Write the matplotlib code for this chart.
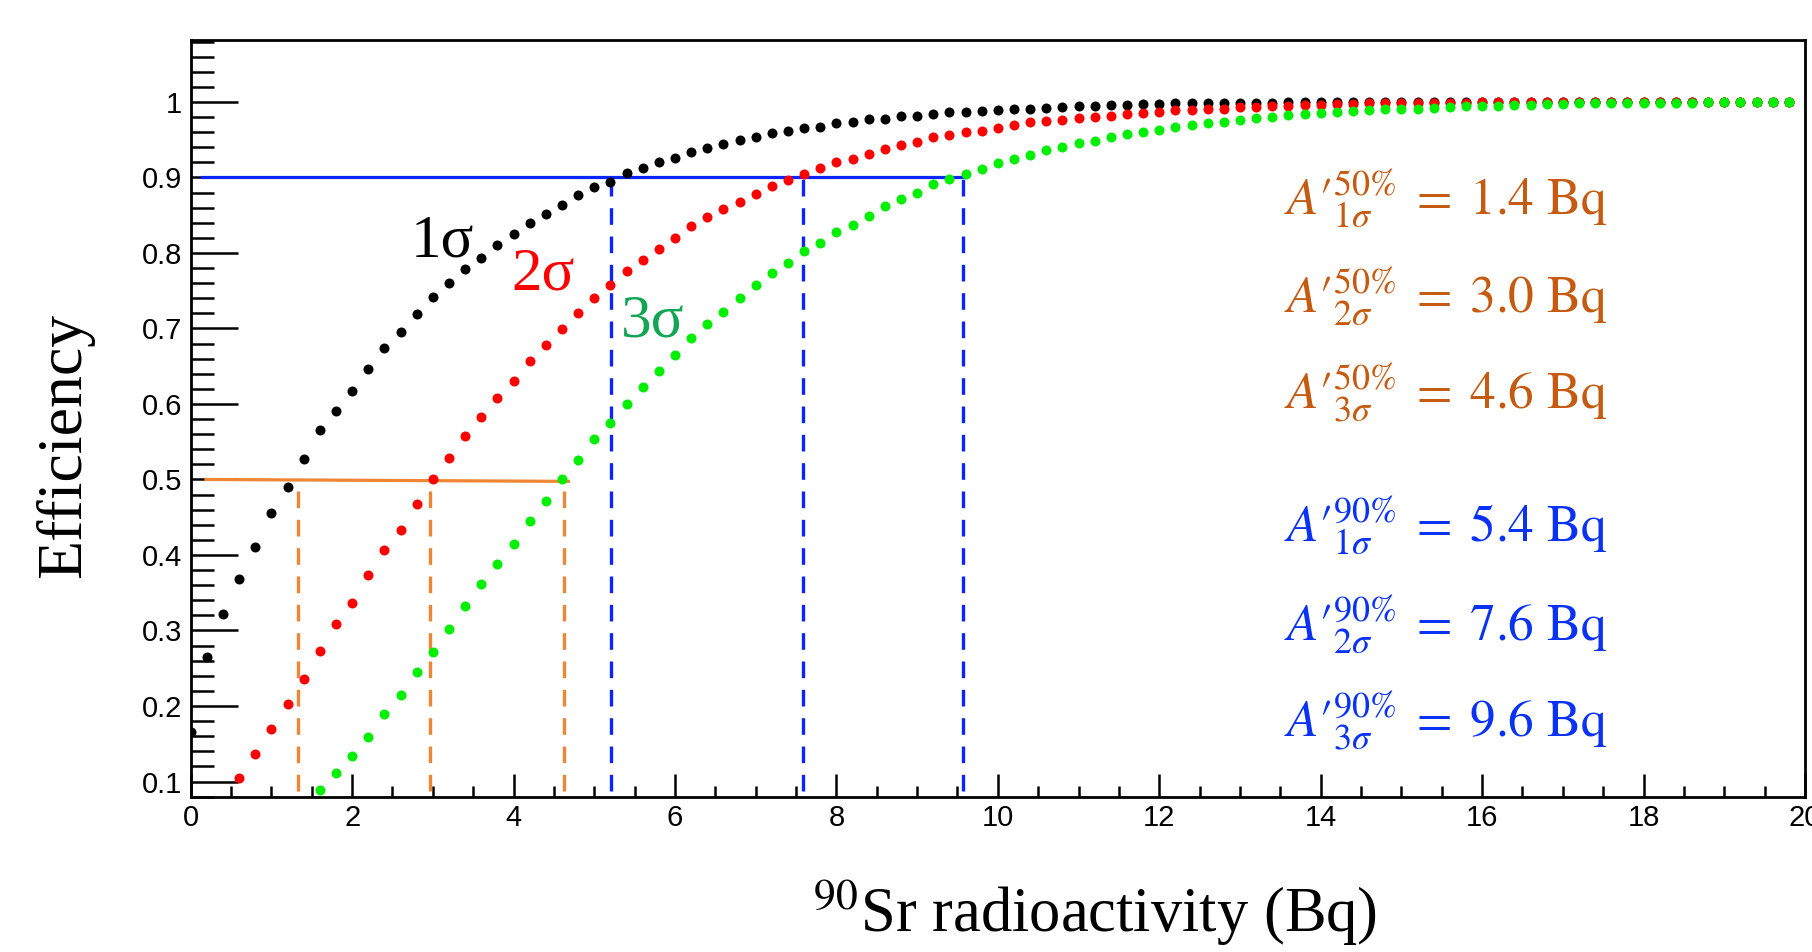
import numpy as np
import matplotlib
matplotlib.use("Agg")
import matplotlib.pyplot as plt
from matplotlib.ticker import MultipleLocator, FixedLocator

plt.rcParams['mathtext.fontset'] = 'stix'

# ---------------- data ----------------
x = np.round(np.arange(0, 20, 0.2), 1)

eff_1sigma = [0.166, 0.265, 0.322, 0.368, 0.411, 0.456, 0.490, 0.527, 0.565, 0.591,
              0.617, 0.646, 0.674, 0.695, 0.719, 0.741, 0.760, 0.779, 0.793, 0.810,
              0.825, 0.840, 0.851, 0.864, 0.877, 0.887, 0.894, 0.906, 0.912, 0.920,
              0.926, 0.934, 0.939, 0.944, 0.949, 0.954, 0.959, 0.961, 0.965, 0.967,
              0.972, 0.973, 0.977, 0.978, 0.981, 0.982, 0.984, 0.986, 0.987, 0.988,
              0.989, 0.990, 0.991, 0.992, 0.993, 0.994, 0.995, 0.996, 0.996, 0.997,
              0.997, 0.998, 0.998, 0.998, 0.999, 0.999, 0.999, 0.999, 1.0, 1.0,
              1.0, 1.0, 1.0, 1.0, 1.0, 1.0, 1.0, 1.0, 1.0, 1.0,
              1.0, 1.0, 1.0, 1.0, 1.0, 1.0, 1.0, 1.0, 1.0, 1.0,
              1.0, 1.0, 1.0, 1.0, 1.0, 1.0, 1.0, 1.0, 1.0, 1.0]

nan = np.nan
eff_2sigma = [nan, nan, nan, 0.105, 0.137, 0.169, 0.202, 0.236, 0.273, 0.308,
              0.337, 0.373, 0.407, 0.433, 0.468, 0.500, 0.529, 0.557, 0.583, 0.608,
              0.630, 0.657, 0.678, 0.699, 0.720, 0.740, 0.757, 0.776, 0.791, 0.805,
              0.820, 0.836, 0.848, 0.858, 0.867, 0.878, 0.888, 0.897, 0.904, 0.912,
              0.921, 0.925, 0.931, 0.937, 0.943, 0.947, 0.953, 0.956, 0.960, 0.962,
              0.966, 0.969, 0.973, 0.975, 0.976, 0.979, 0.980, 0.982, 0.984, 0.985,
              0.987, 0.989, 0.989, 0.990, 0.991, 0.993, 0.993, 0.995, 0.995, 0.996,
              0.996, 0.997, 0.997, 0.998, 0.998, 0.998, 0.999, 0.999, 0.999, 0.999,
              1.0, 1.0, 1.0, 1.0, 1.0, 1.0, 1.0, 1.0, 1.0, 1.0,
              1.0, 1.0, 1.0, 1.0, 1.0, 1.0, 1.0, 1.0, 1.0, 1.0]

eff_3sigma = [nan, nan, nan, nan, nan, nan, nan, nan, 0.089, 0.111,
              0.134, 0.159, 0.189, 0.214, 0.245, 0.272, 0.302, 0.332, 0.362, 0.388,
              0.414, 0.445, 0.471, 0.500, 0.526, 0.554, 0.575, 0.600, 0.622, 0.643,
              0.665, 0.688, 0.706, 0.722, 0.740, 0.757, 0.773, 0.787, 0.803, 0.813,
              0.828, 0.837, 0.849, 0.862, 0.871, 0.880, 0.891, 0.898, 0.905, 0.911,
              0.919, 0.925, 0.930, 0.936, 0.940, 0.946, 0.948, 0.953, 0.958, 0.960,
              0.963, 0.967, 0.970, 0.972, 0.974, 0.976, 0.979, 0.980, 0.983, 0.984,
              0.985, 0.986, 0.988, 0.989, 0.990, 0.990, 0.991, 0.992, 0.993, 0.994,
              0.995, 0.995, 0.996, 0.996, 0.997, 0.997, 0.998, 0.998, 0.998, 0.999,
              0.999, 0.999, 0.999, 0.999, 1.0, 1.0, 1.0, 1.0, 1.0, 1.0]

# threshold levels and crossing activities (Bq)
level50 = 0.5
level90 = 0.9
cross50 = [1.33, 2.96, 4.63]
cross90 = [5.21, 7.59, 9.57]
h50_span = (0.19, 4.68)
h90_span = (0.14, 9.60)
labels50 = ['1.4', '3.0', '4.6']
labels90 = ['5.4', '7.6', '9.6']
sigma_names = ['1\\sigma', '2\\sigma', '3\\sigma']

yticks = [0.1, 0.2, 0.3, 0.4, 0.5, 0.6, 0.7, 0.8, 0.9, 1.0]
yticklabels = ['0.1', '0.2', '0.3', '0.4', '0.5', '0.6', '0.7', '0.8', '0.9', '1']
xticks = [0, 2, 4, 6, 8, 10, 12, 14, 16, 18, 20]

# ---------------- figure ----------------
W, H = 1812, 952
fig = plt.figure(figsize=(W / 100, H / 100), dpi=100)
ax = fig.add_axes([190.7 / W, 1 - 797 / H, (1805 - 190.7) / W, (797 - 40) / H])
ax.set_xlim(0, 20)
ax.set_ylim(0.0795, 1.082)

c_black = 'black'
c_red = '#ff0000'
c_green = '#00ee00'
c_blue_line = '#0a24ff'
c_orange_line = '#f08535'
c_orange_txt = '#c55a11'
c_blue_txt = '#0a32f5'

ms = 7.2
ax.plot(x, eff_1sigma, 'o', color=c_black, ms=ms, mec='none', zorder=3)
ax.plot(x, eff_2sigma, 'o', color=c_red, ms=ms, mec='none', zorder=4)
ax.plot(x, eff_3sigma, 'o', color=c_green, ms=ms, mec='none', zorder=5)

# threshold lines
ax.plot(h90_span, [level90, level90], color=c_blue_line, lw=2.3, zorder=2)
ax.plot(h50_span, [level50, level50 - 0.0025], color=c_orange_line, lw=2.3, zorder=2)
ybot = 0.088
for xc in cross90:
    ax.plot([xc, xc], [ybot, level90], color=c_blue_line, lw=2.4,
            dashes=(5, 3.5), zorder=2)
for xc in cross50:
    ax.plot([xc, xc], [ybot, level50], color=c_orange_line, lw=2.4,
            dashes=(5, 3.5), zorder=2)

# sigma labels on curves
ax.text(2.72, 0.795, '1σ', color='black', fontsize=44, family='Liberation Serif',
        va='baseline', ha='left')
ax.text(3.97, 0.752, '2σ', color='red', fontsize=44, family='Liberation Serif',
        va='baseline', ha='left')
ax.text(5.33, 0.690, '3σ', color='#12a554', fontsize=44, family='Liberation Serif',
        va='baseline', ha='left')

# result annotations
ys50 = [0.851, 0.722, 0.594]
ys90 = [0.418, 0.287, 0.160]
for s, lab, yy in zip(sigma_names, labels50, ys50):
    ax.text(13.54, yy, r"$A{\prime}^{50\%}_{" + s + r"}\;=\;" + lab + r"\ \mathrm{Bq}$",
            color=c_orange_txt, fontsize=37, va='baseline', ha='left')
for s, lab, yy in zip(sigma_names, labels90, ys90):
    ax.text(13.54, yy, r"$A{\prime}^{90\%}_{" + s + r"}\;=\;" + lab + r"\ \mathrm{Bq}$",
            color=c_blue_txt, fontsize=37, va='baseline', ha='left')

# axes styling (ROOT-like)
for side in ['left', 'bottom', 'top', 'right']:
    ax.spines[side].set_linewidth(2.0)
ax.yaxis.set_major_locator(FixedLocator(yticks))
ax.set_yticklabels(yticklabels)
ax.yaxis.set_minor_locator(MultipleLocator(0.02))
ax.xaxis.set_major_locator(FixedLocator(xticks))
ax.xaxis.set_minor_locator(MultipleLocator(0.5))
ax.tick_params(axis='y', which='major', direction='in', length=34, width=1.8,
               labelsize=21, pad=6)
ax.tick_params(axis='y', which='minor', direction='in', length=16.5, width=1.8)
ax.tick_params(axis='x', which='major', direction='in', length=16.5, width=1.8,
               labelsize=21, pad=5)
ax.tick_params(axis='x', which='minor', direction='in', length=8, width=1.8)
for lbl in ax.get_xticklabels() + ax.get_yticklabels():
    lbl.set_family('Liberation Sans')

fig.text(80 / W, 1 - 445 / H, 'Efficiency', rotation=90, rotation_mode='anchor',
         ha='center', va='baseline', fontsize=46, family='Liberation Serif')
fig.text(1095 / W, 1 - 932 / H, r'$^{90}$Sr radioactivity (Bq)', ha='center',
         va='baseline', fontsize=45, family='Liberation Serif')

fig.savefig('out.png', dpi=100)
